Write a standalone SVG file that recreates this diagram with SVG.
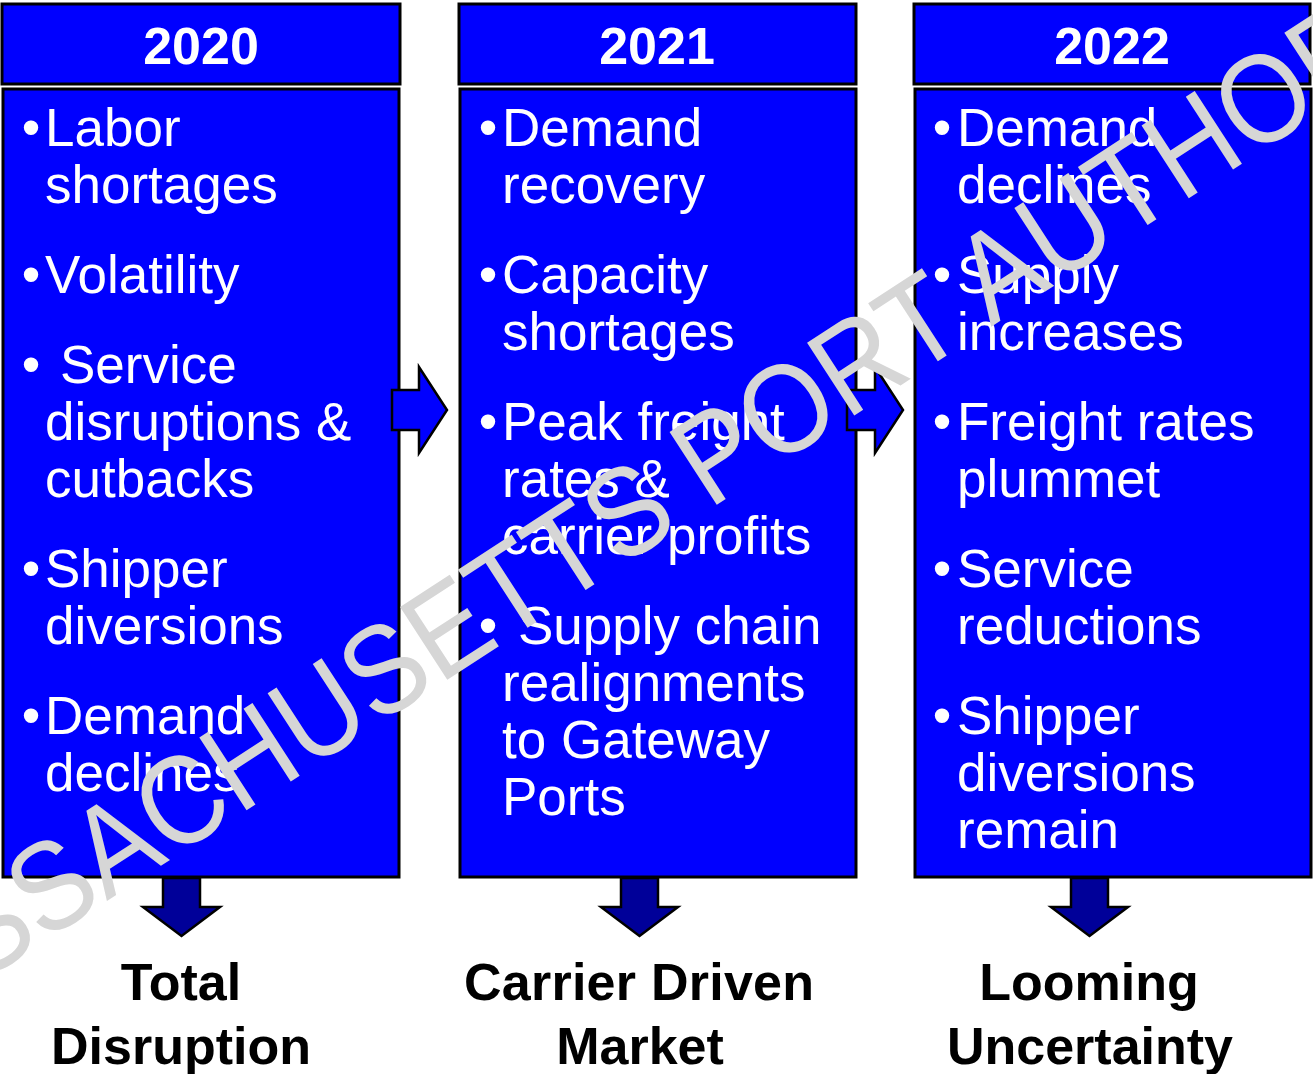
<svg xmlns="http://www.w3.org/2000/svg" width="1313" height="1074" viewBox="0 0 1313 1074">
<style>
.box{fill:#0000FF;stroke:#000;stroke-width:3}
.hdr{font-family:"Liberation Sans",Arial,sans-serif;font-weight:bold;font-size:52px;fill:#fff;text-anchor:middle}
.bt{font-family:"Liberation Sans",Arial,sans-serif;font-size:53px;fill:#fff}
.bul{font-family:"Liberation Sans",Arial,sans-serif;font-size:53px;fill:#fff;text-anchor:middle}
.lbl{font-family:"Liberation Sans",Arial,sans-serif;font-weight:bold;font-size:52px;fill:#000;text-anchor:middle}
.rarrow{fill:#0000FF;stroke:#000;stroke-width:2.5;stroke-linejoin:miter}
.darrow{fill:#000099;stroke:#000;stroke-width:2.5;stroke-linejoin:miter}
.wm{font-family:"Liberation Sans",Arial,sans-serif;font-size:126px;fill:#d6d6d6}
</style>
<rect width="1313" height="1074" fill="#fff"/>

<g id="col-2020">
  <rect class="box" x="2" y="4" width="398" height="80"/>
  <text class="hdr" x="201" y="64">2020</text>
  <rect class="box" x="3" y="89" width="396" height="788"/>
  <text class="bul" x="31" y="146">•</text>
  <text class="bt" x="45" y="146">Labor</text>
  <text class="bt" x="45" y="203">shortages</text>
  <text class="bul" x="31" y="293">•</text>
  <text class="bt" x="45" y="293">Volatility</text>
  <text class="bul" x="31" y="383">•</text>
  <text class="bt" x="60" y="383">Service</text>
  <text class="bt" x="45" y="440">disruptions &amp;</text>
  <text class="bt" x="45" y="497">cutbacks</text>
  <text class="bul" x="31" y="587">•</text>
  <text class="bt" x="45" y="587">Shipper</text>
  <text class="bt" x="45" y="644">diversions</text>
  <text class="bul" x="31" y="734">•</text>
  <text class="bt" x="45" y="734">Demand</text>
  <text class="bt" x="45" y="791">declines</text>
</g>

<g id="col-2021">
  <rect class="box" x="459" y="4" width="397" height="80"/>
  <text class="hdr" x="657" y="64">2021</text>
  <rect class="box" x="460" y="89" width="396" height="788"/>
  <text class="bul" x="488" y="146">•</text>
  <text class="bt" x="502" y="146">Demand</text>
  <text class="bt" x="502" y="203">recovery</text>
  <text class="bul" x="488" y="293">•</text>
  <text class="bt" x="502" y="293">Capacity</text>
  <text class="bt" x="502" y="350">shortages</text>
  <text class="bul" x="488" y="440">•</text>
  <text class="bt" x="502" y="440">Peak freight</text>
  <text class="bt" x="502" y="497">rates &amp;</text>
  <text class="bt" x="502" y="554">carrier profits</text>
  <text class="bul" x="488" y="644">•</text>
  <text class="bt" x="518" y="644">Supply chain</text>
  <text class="bt" x="502" y="701">realignments</text>
  <text class="bt" x="502" y="758">to Gateway</text>
  <text class="bt" x="502" y="815">Ports</text>
</g>

<g id="col-2022">
  <rect class="box" x="914" y="4" width="396" height="80"/>
  <text class="hdr" x="1112" y="64">2022</text>
  <rect class="box" x="915" y="89" width="396" height="788"/>
  <text class="bul" x="942" y="146">•</text>
  <text class="bt" x="957" y="146">Demand</text>
  <text class="bt" x="957" y="203">declines</text>
  <text class="bul" x="942" y="293">•</text>
  <text class="bt" x="957" y="293">Supply</text>
  <text class="bt" x="957" y="350">increases</text>
  <text class="bul" x="942" y="440">•</text>
  <text class="bt" x="957" y="440">Freight rates</text>
  <text class="bt" x="957" y="497">plummet</text>
  <text class="bul" x="942" y="587">•</text>
  <text class="bt" x="957" y="587">Service</text>
  <text class="bt" x="957" y="644">reductions</text>
  <text class="bul" x="942" y="734">•</text>
  <text class="bt" x="957" y="734">Shipper</text>
  <text class="bt" x="957" y="791">diversions</text>
  <text class="bt" x="957" y="848">remain</text>
</g>

<g id="connectors">
  <polygon class="rarrow" points="392,390 419,390 419,367 447,410 419,453 419,430 392,430"/>
  <polygon class="rarrow" points="847,390 875,390 875,367 903,410 875,453 875,430 847,430"/>
  <polygon class="darrow" points="163,878 200,878 200,907 220,907 181.5,936 143,907 163,907"/>
  <polygon class="darrow" points="621,878 658,878 658,907 678,907 639.5,936 601,907 621,907"/>
  <polygon class="darrow" points="1071,878 1108,878 1108,907 1128,907 1089.5,936 1051,907 1071,907"/>
</g>

<g id="outcome-2020">
  <text class="lbl" x="181" y="1000">Total</text>
  <text class="lbl" x="181" y="1064">Disruption</text>
</g>
<g id="outcome-2021">
  <text class="lbl" x="639" y="1000" textLength="350" lengthAdjust="spacing">Carrier Driven</text>
  <text class="lbl" x="640" y="1064">Market</text>
</g>
<g id="outcome-2022">
  <text class="lbl" x="1089" y="1000">Looming</text>
  <text class="lbl" x="1090" y="1064">Uncertainty</text>
</g>

<g id="watermark">
  <text class="wm" transform="translate(447,680) rotate(-33) scale(0.9,1)" x="-808" y="0">MASSACHUSETTS PORT AUTHORITY</text>
</g>
</svg>
